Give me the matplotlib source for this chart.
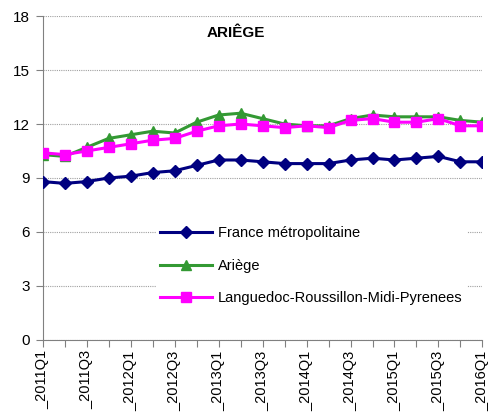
import matplotlib
matplotlib.use("Agg")
import matplotlib.pyplot as plt

plt.rcParams['font.family'] = ['Liberation Sans', 'DejaVu Sans']

# Trimestres 2011Q1 -> 2016Q1
quarters = [f"{y}Q{q}" for y in range(2011, 2017) for q in range(1, 5)][:21]
tick_labels = ["_" + q if i % 2 == 0 else "" for i, q in enumerate(quarters)]

france = [8.8, 8.7, 8.8, 9.0, 9.1, 9.3, 9.4, 9.7, 10.0, 10.0, 9.9,
          9.8, 9.8, 9.8, 10.0, 10.1, 10.0, 10.1, 10.2, 9.9, 9.9]
ariege = [10.3, 10.2, 10.7, 11.2, 11.4, 11.6, 11.5, 12.1, 12.5, 12.6, 12.3,
          12.0, 11.9, 11.9, 12.3, 12.5, 12.4, 12.4, 12.4, 12.2, 12.1]
lrmp = [10.4, 10.3, 10.5, 10.7, 10.9, 11.1, 11.2, 11.6, 11.9, 12.0, 11.9,
        11.8, 11.9, 11.8, 12.2, 12.3, 12.1, 12.1, 12.3, 11.9, 11.9]

fig = plt.figure(figsize=(4.93, 4.12), dpi=100)
ax = fig.add_axes([0.0866, 0.175, 0.892, 0.786])

x = range(len(quarters))
ax.plot(x, france, color='#000080', lw=2.2, marker='D', ms=6, label='France métropolitaine', zorder=3)
ax.plot(x, ariege, color='#339933', lw=2.2, marker='^', ms=7.5, label='Ariège', zorder=4)
ax.plot(x, lrmp, color='#FF00FF', lw=2.2, marker='s', ms=7.5, label='Languedoc-Roussillon-Midi-Pyrenees', zorder=5)

ax.set_xlim(0, 20)
ax.set_ylim(0, 18)
ax.set_yticks([0, 3, 6, 9, 12, 15, 18])
ax.set_xticks(list(x))
ax.set_xticklabels(tick_labels, rotation=90, fontsize=10.5)
ax.tick_params(axis='y', labelsize=11, length=5, color='#808080', pad=4)
ax.tick_params(axis='x', length=5, color='#808080', pad=2.5)

ax.grid(axis='y', color='#a0a0a0', ls=(0, (1, 1)), lw=0.8)
ax.set_axisbelow(True)
for side in ['top', 'right']:
    ax.spines[side].set_visible(False)
ax.spines['left'].set_color('#808080')
ax.spines['bottom'].set_color('#808080')

ax.text(0.44, 0.947, 'ARIÊGE', transform=ax.transAxes, ha='center', va='center',
        fontsize=11, fontweight='bold')

leg = ax.legend(loc='lower left', bbox_to_anchor=(0.24, 0.072), fontsize=10.5, frameon=True,
                fancybox=False, edgecolor='none', facecolor='white', framealpha=1,
                handlelength=3.6, labelspacing=1.25, borderpad=0.3, handletextpad=0.4)
leg.set_zorder(10)

fig.savefig('out.png', dpi=100)
